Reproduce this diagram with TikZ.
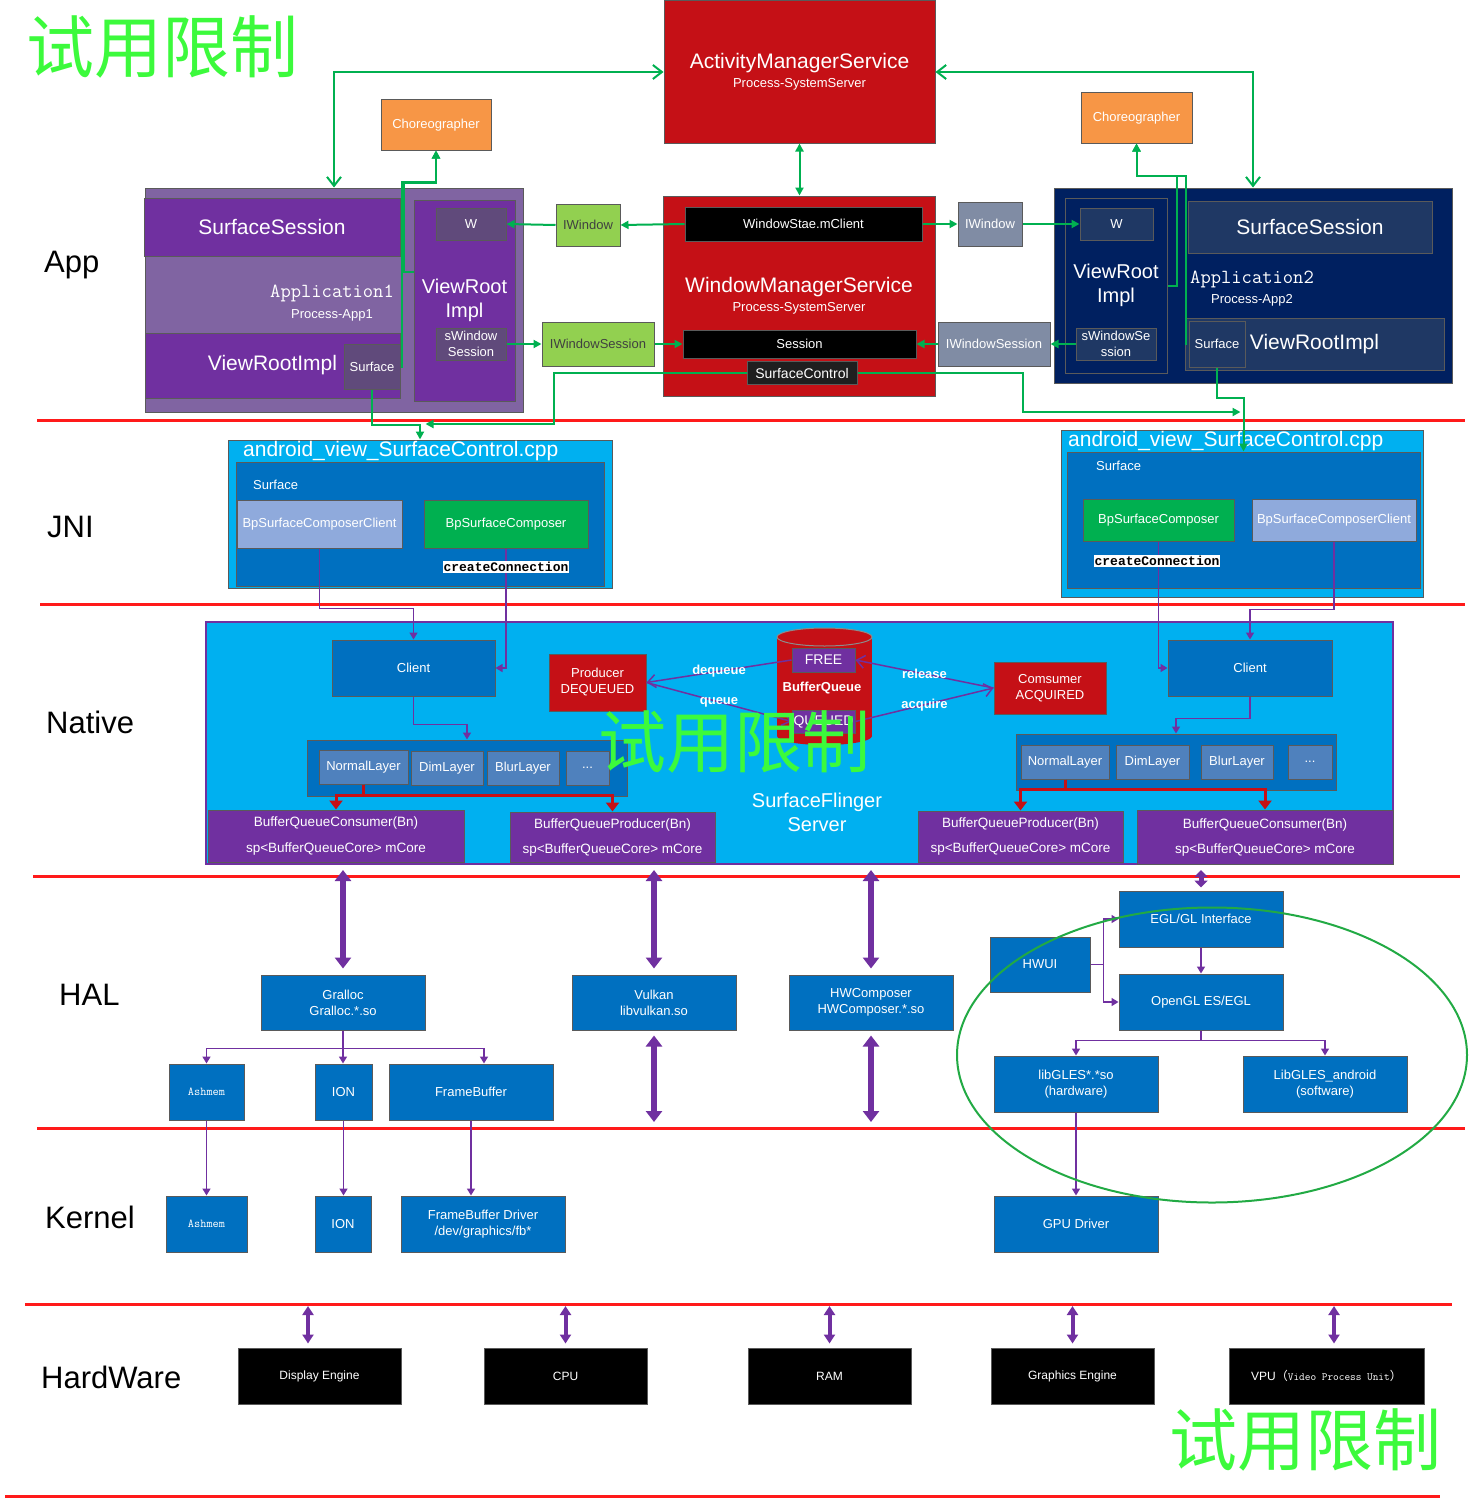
\documentclass[tikz,border=0pt]{standalone}
\usepackage{fontspec}
\setmainfont{Liberation Sans}
\newfontfamily\cjk{Noto Sans CJK SC}
\newfontfamily\cnfont{Liberation Mono}
\usetikzlibrary{arrows.meta}

\definecolor{amsred}{RGB}{197,16,22}
\definecolor{vpurple}{RGB}{112,48,160}
\definecolor{apppurple}{RGB}{128,100,162}
\definecolor{surfpurple}{RGB}{96,74,123}
\definecolor{navy}{RGB}{0,32,96}
\definecolor{navybox}{RGB}{31,56,100}
\definecolor{lgreen}{RGB}{146,208,80}
\definecolor{ggray}{RGB}{128,140,164}
\definecolor{skyblue}{RGB}{0,176,240}
\definecolor{midblue}{RGB}{0,112,192}
\definecolor{layerblue}{RGB}{79,129,189}
\definecolor{bpgray}{RGB}{143,170,220}
\definecolor{bpgreen}{RGB}{0,176,80}
\definecolor{chororange}{RGB}{247,150,70}
\definecolor{linegreen}{RGB}{0,176,80}
\definecolor{sepred}{RGB}{255,26,26}
\definecolor{markgreen}{RGB}{60,250,60}
\definecolor{ellgreen}{RGB}{34,170,68}
\definecolor{edgegray}{RGB}{90,90,90}

\begin{document}
\begin{tikzpicture}[x=1pt,y=-1pt,
  box/.style={rectangle,draw=edgegray,line width=1pt,text=white,align=center,inner sep=0pt,font=\fontsize{13}{16}\selectfont},
  big/.style={font=\fontsize{21}{24}\selectfont},
  tier/.style={anchor=west,inner sep=0pt,font=\fontsize{31}{34}\selectfont},
  sepline/.style={draw=sepred,line width=3pt},
  gline/.style={draw=linegreen,line width=2pt},
  garrow/.style={gline,-{Triangle[length=8pt,width=8pt]}},
  parrow/.style={draw=vpurple,line width=1.5pt,-{Triangle[length=7pt,width=8pt]}},
  bqarrow/.style={draw=vpurple,line width=1.5pt,-{Straight Barb[length=8pt,width=13pt]}},
  bqlbl/.style={text=white,inner sep=0pt,font=\bfseries\fontsize{13}{15}\selectfont},
  rarrow/.style={draw=amsred,line width=3pt,-{Triangle[length=9pt,width=13pt]}},
  dbl/.style={draw=vpurple,line width=6pt,{Triangle[length=11pt,width=16pt]}-{Triangle[length=11pt,width=16pt]},shorten <=5pt,shorten >=6pt},
  hwdbl/.style={draw=vpurple,line width=4pt,{Triangle[length=9pt,width=11pt]}-{Triangle[length=9pt,width=11pt]},shorten <=2pt,shorten >=4pt},
  wmark/.style={text=markgreen,inner sep=0pt,font=\cjk\fontsize{68}{70}\selectfont}]
\useasboundingbox (0,0) rectangle (1471,1501);

\foreach \y/\a/\b in {420/37/1465,604/40/1465,876/33/1460,1128/37/1465,1304/25/1452,1496/5/1440} {
  \draw[sepline] (\a,\y) -- (\b,\y);
  \coordinate (sep\y) at (0,\y);
}

\node[tier] (lapp) at (44,265) {App};
\node[tier] (ljni) at (47,527) {JNI};
\node[tier] (lnative) at (46,722) {Native};
\node[tier] (lhal) at (59,995) {HAL};
\node[tier] (lkernel) at (45,1217) {Kernel};
\node[tier] (lhw) at (41,1377) {HardWare};

\node[box,fill=amsred,minimum width=271,minimum height=142,font=\fontsize{13}{19}\selectfont] (ams) at (799.5,72) {{\fontsize{21}{24}\selectfont ActivityManagerService}\\Process-SystemServer};
\node[box,fill=amsred,minimum width=272,minimum height=200,font=\fontsize{13}{19}\selectfont] (wms) at (799,296) {{\fontsize{21}{24}\selectfont WindowManagerService}\\Process-SystemServer};
\node[box,fill=black,minimum width=237,minimum height=34] (mclient) at (803.5,224) {WindowStae.mClient};
\node[box,fill=black,minimum width=233,minimum height=28] (session) at (799.5,344) {Session};
\node[box,fill=black!88,minimum width=110,minimum height=23,font=\fontsize{14}{16}\selectfont] (sctrl) at (802,373) {SurfaceControl};

\node[box,fill=apppurple,minimum width=378,minimum height=224] (app1) at (334,300) {};
\node[box,fill=vpurple,minimum width=256,minimum height=58,big] (ss1) at (272,227) {SurfaceSession};
\node[text=white,align=center,inner sep=0pt,font=\fontsize{13}{21}\selectfont] (app1name) at (332,303) {{\ttfamily\fontsize{20}{22}\selectfont Application1}\\Process-App1};
\node[box,fill=vpurple,minimum width=255,minimum height=65,big] (vri1) at (272.5,365.5) {ViewRootImpl};
\node[box,fill=surfpurple,minimum width=56,minimum height=45] (surf1) at (372,366.5) {Surface};
\node[box,fill=vpurple,minimum width=101,minimum height=201,font=\fontsize{20}{24}\selectfont] (vrr1) at (464.5,300.5) {ViewRoot\\Impl};
\node[box,fill=surfpurple,minimum width=70,minimum height=32] (w1) at (471,224) {W};
\node[box,fill=surfpurple,minimum width=70,minimum height=32] (sws1) at (471,344) {sWindow\\Session};
\node[box,fill=chororange,minimum width=110,minimum height=50] (chor1) at (436,125) {Choreographer};
\node[box,fill=lgreen,text=black!75,minimum width=64,minimum height=42] (iw1) at (588,225) {IWindow};
\node[box,fill=lgreen,text=black!75,minimum width=112,minimum height=44] (iws1) at (598,344) {IWindowSession};

\node[box,fill=ggray,minimum width=64,minimum height=44] (iw2) at (990,224) {IWindow};
\node[box,fill=ggray,minimum width=112,minimum height=44] (iws2) at (994,344) {IWindowSession};
\node[box,fill=navy,minimum width=398,minimum height=195] (app2) at (1253,285.5) {};
\node[box,fill=navy,minimum width=102,minimum height=175,font=\fontsize{20}{24}\selectfont] (vrl2) at (1116,285.5) {ViewRoot\\Impl};
\node[box,fill=navybox,minimum width=73,minimum height=32] (w2) at (1116.5,224) {W};
\node[box,fill=navybox,minimum width=80,minimum height=32] (sws2) at (1116,344) {sWindowSe\\ssion};
\node[box,fill=navybox,minimum width=244,minimum height=52,big] (ss2) at (1310,227) {SurfaceSession};
\node[text=white,align=center,inner sep=0pt,font=\fontsize{13}{20}\selectfont] (app2name) at (1252,289) {{\ttfamily\fontsize{20}{22}\selectfont Application2}\\Process-App2};
\node[box,fill=navybox,minimum width=259,minimum height=52,big] (vr2) at (1314.5,344) {ViewRootImpl};
\node[box,fill=navybox,minimum width=56,minimum height=46] (surf2) at (1217,344) {Surface};
\node[box,fill=chororange,minimum width=111,minimum height=50] (chor2) at (1136.5,118) {Choreographer};

\node[box,fill=skyblue,minimum width=384,minimum height=148] (jni1) at (420,514) {};
\node[anchor=west,text=white,inner sep=0pt,font=\fontsize{21}{24}\selectfont] (jni1t) at (243,451) {android\_view\_SurfaceControl.cpp};
\node[box,fill=midblue,minimum width=368,minimum height=124] (jni1in) at (420,524) {};
\node[anchor=west,text=white,inner sep=0pt,font=\fontsize{13}{15}\selectfont] (surfl1) at (253,485) {Surface};
\node[box,fill=bpgray,minimum width=165,minimum height=48] (bpcc1) at (319.5,524) {BpSurfaceComposerClient};
\node[box,fill=bpgreen,minimum width=164,minimum height=48] (bpc1) at (506,524) {BpSurfaceComposer};

\node[box,fill=skyblue,minimum width=362,minimum height=167] (jni2) at (1242,513.5) {};
\node[anchor=west,text=white,inner sep=0pt,font=\fontsize{21}{24}\selectfont] (jni2t) at (1068,441) {android\_view\_SurfaceControl.cpp};
\node[box,fill=midblue,minimum width=353,minimum height=136] (jni2in) at (1243.5,520) {};
\node[anchor=west,text=white,inner sep=0pt,font=\fontsize{13}{15}\selectfont] (surfl2) at (1096,466) {Surface};
\node[box,fill=bpgreen,minimum width=151,minimum height=42] (bpc2) at (1158.5,520) {BpSurfaceComposer};
\node[box,fill=bpgray,minimum width=164,minimum height=42] (bpcc2) at (1334,520) {BpSurfaceComposerClient};

\node[box,fill=skyblue,draw=vpurple,line width=2pt,minimum width=1187,minimum height=242] (sf) at (799.5,743) {};
\node[box,fill=midblue,minimum width=163,minimum height=56] (client1) at (413.5,668) {Client};
\node[box,fill=midblue,minimum width=164,minimum height=56] (client2) at (1250,668) {Client};
\node[box,fill=midblue,minimum width=320,minimum height=56] (lay1) at (467,768) {};
\node[box,fill=layerblue,minimum width=89,minimum height=34] (nl1) at (363.5,767) {NormalLayer};
\node[box,fill=layerblue,minimum width=72,minimum height=34] (dl1) at (447,768) {DimLayer};
\node[box,fill=layerblue,minimum width=72,minimum height=34] (bl1) at (523,768) {BlurLayer};
\node[box,fill=layerblue,minimum width=43,minimum height=34] (el1) at (587.5,768) {...};
\node[box,fill=midblue,minimum width=320,minimum height=56] (lay2) at (1176,762) {};
\node[box,fill=layerblue,minimum width=88,minimum height=34] (nl2) at (1065,762) {NormalLayer};
\node[box,fill=layerblue,minimum width=73,minimum height=34] (dl2) at (1152.5,762) {DimLayer};
\node[box,fill=layerblue,minimum width=72,minimum height=34] (bl2) at (1237,762) {BlurLayer};
\node[box,fill=layerblue,minimum width=44,minimum height=34] (el2) at (1310,762) {...};
\node[box,fill=vpurple,minimum width=256,minimum height=52,font=\fontsize{13.5}{25}\selectfont] (bqc1) at (336,836) {BufferQueueConsumer(Bn)\\sp<BufferQueueCore>  mCore};
\node[box,fill=vpurple,minimum width=205,minimum height=50,font=\fontsize{13.5}{25}\selectfont] (bqp1) at (612.5,837) {BufferQueueProducer(Bn)\\sp<BufferQueueCore>  mCore};
\node[box,fill=vpurple,minimum width=205,minimum height=51,font=\fontsize{13.5}{25}\selectfont] (bqp2) at (1020.5,836.5) {BufferQueueProducer(Bn)\\sp<BufferQueueCore>  mCore};
\node[box,fill=vpurple,minimum width=256,minimum height=54,font=\fontsize{13.5}{25}\selectfont] (bqc2) at (1265,837) {BufferQueueConsumer(Bn)\\sp<BufferQueueCore>  mCore};
\node[box,fill=amsred,minimum width=97,minimum height=57] (prod) at (597.5,682.5) {Producer\\DEQUEUED};
\node[box,fill=amsred,minimum width=112,minimum height=52] (cons) at (1050,688) {Comsumer\\ACQUIRED};

\fill[amsred] (777,637) rectangle (872,736);
\fill[amsred] (824.5,736) ellipse [x radius=47.5, y radius=9];
\draw[fill=amsred,draw=black!45,line width=1pt] (824.5,637) ellipse [x radius=47.5, y radius=9];
\node[box,fill=vpurple,minimum width=63,minimum height=24,font=\fontsize{14}{16}\selectfont] (free) at (823.5,660) {FREE};
\node[box,fill=vpurple,minimum width=63,minimum height=23,font=\fontsize{14}{16}\selectfont] (queued) at (823.5,721.5) {QUEUED};
\node[bqlbl] (bqname) at (822,688) {BufferQueue};
\node[text=white,align=center,inner sep=0pt,font=\fontsize{20}{24}\selectfont] (sfname) at (817,812) {SurfaceFlinger\\Server};

\node[box,fill=midblue,minimum width=164,minimum height=55] (gralloc) at (343,1002.5) {Gralloc\\Gralloc.*.so};
\node[box,fill=midblue,minimum width=164,minimum height=55] (vulkan) at (654,1002.5) {Vulkan\\libvulkan.so};
\node[box,fill=midblue,minimum width=164,minimum height=55] (hwc) at (871,1002.5) {HWComposer\\HWComposer.*.so};
\node[box,fill=midblue,minimum width=164,minimum height=56] (egl) at (1201,919) {EGL/GL Interface};
\node[box,fill=midblue,minimum width=100,minimum height=55] (hwui) at (1040,964.5) {HWUI};
\node[box,fill=midblue,minimum width=164,minimum height=56] (gl) at (1201,1002) {OpenGL ES/EGL};
\node[box,fill=midblue,minimum width=164,minimum height=56] (gles1) at (1076,1084) {libGLES*.*so\\(hardware)};
\node[box,fill=midblue,minimum width=164,minimum height=56] (gles2) at (1325,1084) {LibGLES\_android\\(software)};
\node[box,fill=midblue,minimum width=75,minimum height=56,font=\ttfamily\fontsize{12}{14}\selectfont] (ashmem1) at (206.5,1092) {Ashmem};
\node[box,fill=midblue,minimum width=57,minimum height=56] (ion1) at (343.5,1092) {ION};
\node[box,fill=midblue,minimum width=164,minimum height=56] (fb1) at (471,1092) {FrameBuffer};

\node[box,fill=midblue,minimum width=81,minimum height=56,font=\ttfamily\fontsize{12}{14}\selectfont] (ashmem2) at (206.5,1224) {Ashmem};
\node[box,fill=midblue,minimum width=56,minimum height=56] (ion2) at (343,1224) {ION};
\node[box,fill=midblue,minimum width=164,minimum height=56] (fbd) at (483,1224) {FrameBuffer Driver\\/dev/graphics/fb*};
\node[box,fill=midblue,minimum width=164,minimum height=56] (gpu) at (1076,1224) {GPU Driver};

\node[box,fill=black,minimum width=163,minimum height=56,font=\fontsize{12}{14}\selectfont] (disp) at (319.5,1376) {Display Engine};
\node[box,fill=black,minimum width=163,minimum height=56,font=\fontsize{12}{14}\selectfont] (cpu) at (565.5,1376) {CPU};
\node[box,fill=black,minimum width=163,minimum height=56,font=\fontsize{12}{14}\selectfont] (ram) at (829.5,1376) {RAM};
\node[box,fill=black,minimum width=163,minimum height=56,font=\fontsize{12}{14}\selectfont] (gfx) at (1072.5,1376) {Graphics Engine};
\node[box,fill=black,minimum width=195,minimum height=56,font=\fontsize{12}{14}\selectfont] (vpu) at (1326.5,1376) {VPU{\cjk （}{\ttfamily\fontsize{11}{13}\selectfont Video Process Unit}{\cjk ）}};

\draw[gline,{Straight Barb[length=9pt,width=14pt]}-{Straight Barb[length=9pt,width=14pt]}] (app1.north) |- (ams.west);
\draw[gline,{Straight Barb[length=9pt,width=14pt]}-{Straight Barb[length=9pt,width=14pt]}] (app2.north) |- (ams.east);
\draw[gline,{Triangle[length=8pt,width=8pt]}-{Triangle[length=8pt,width=8pt]}] (ams.south) -- (ams.south |- wms.north);
\draw[garrow] (mclient.west) -- (iw1.east);
\draw[garrow] (iw1.west) -- (w1.east);
\draw[garrow] (sws1.east) -- (iws1.west);
\draw[garrow] (iws1.east) -- (session.west);
\draw[garrow] (mclient.east) -- (iw2.west);
\draw[garrow] (iw2.east) -- (w2.west);
\draw[garrow] (sws2.west) -- (iws2.east);
\draw[garrow] (iws2.west) -- (session.east);
\draw[garrow] (vrr1.west |- 0,272) -- (404,272) -- (404,183) -| (chor1.south);
\draw[garrow] (surf1.east) -- ++(1,0) -- ++(0,-185) -| (chor1.south);
\draw[garrow] (vrl2.east) -- ++(9,0) -- ++(0,-109.5) -| (chor2.south);
\draw[garrow] (vr2.west) -- ++(1,0) -- ++(0,-168) -| (chor2.south);
\draw[garrow] (surf1.south) -- ++(0,35) -| (jni1.north);
\draw[garrow] (sctrl.west) -| ++(-193,51) -- ++(-128,0);
\draw[garrow] (sctrl.east) -| ++(165,39) -- ++(218,0);
\draw[garrow] (surf2.south) -- ++(0,30) -| (jni2in.north);

\draw[parrow] (bpcc1.south) -- ++(0,60) -| (client1.north);
\draw[parrow] (bpc1.south) |- (client1.east);
\draw[parrow] (bpc2.south) |- (client2.west);
\draw[parrow] (bpcc2.south) -- ++(0,68) -| (client2.north);
\draw[parrow] (client1.south) -- ++(0,28) -| (lay1.north);
\draw[parrow] (client2.south) -- ++(0,22) -| (lay2.north);
\node[fill=white,text=black,inner sep=1pt,font=\cnfont\bfseries\fontsize{13}{15}\selectfont] (cc1) at (506,567) {createConnection};
\node[fill=white,text=black,inner sep=1pt,font=\cnfont\bfseries\fontsize{13}{15}\selectfont] (cc2) at (1157,561) {createConnection};

\draw[bqarrow] (free.west) -- (prod.east) node[bqlbl,midway] {dequeue};
\draw[bqarrow] (prod.east) -- (queued.west) node[bqlbl,midway] {queue};
\draw[bqarrow] (queued.east) -- (cons.west) node[bqlbl,midway] {acquire};
\draw[bqarrow] (cons.west) -- (free.east) node[bqlbl,midway] {release};

\draw[rarrow] (nl1.south) -- ++(0,11) -| (bqc1.north);
\draw[rarrow] (nl1.south) -- ++(0,11) -| (bqp1.north);
\draw[rarrow] (nl2.south) -- ++(0,10) -| (bqp2.north);
\draw[rarrow] (nl2.south) -- ++(0,10) -| (bqc2.north);

\draw[dbl] (gralloc.north |- sf.south) -- (gralloc.north);
\draw[dbl] (vulkan.north |- sf.south) -- (vulkan.north);
\draw[dbl] (hwc.north |- sf.south) -- (hwc.north);
\draw[draw=vpurple,line width=5pt,{Triangle[length=7pt,width=13pt]}-{Triangle[length=7pt,width=13pt]},shorten <=5pt,shorten >=3pt] (egl.north |- sf.south) -- (egl.north);
\draw[dbl] (vulkan.south) -- (vulkan.south |- sep1128);
\draw[dbl] (hwc.south) -- (hwc.south |- sep1128);

\draw[parrow] (gralloc.south) -- ++(0,18) -| (ashmem1.north);
\draw[parrow] (gralloc.south) -- (gralloc.south |- ion1.north);
\draw[parrow] (gralloc.south) -- ++(0,18) -| ([xshift=13]fb1.north);
\draw[parrow] (ashmem1.south) -- (ashmem2.north);
\draw[parrow] (ion1.south) -- (ion1.south |- ion2.north);
\draw[parrow] (fb1.south) -- (fb1.south |- fbd.north);
\draw[parrow] (hwui.east) -- ++(13,0) |- (egl.west);
\draw[parrow] (hwui.east) -- ++(13,0) |- (gl.west);
\draw[parrow] (egl.south) -- (gl.north);
\draw[parrow] (gl.south) -- ++(0,10) -| (gles1.north);
\draw[parrow] (gl.south) -- ++(0,10) -| (gles2.north);
\draw[parrow] (gles1.south) -- (gpu.north);

\draw[draw=ellgreen,line width=2pt] (1212,1055) ellipse [x radius=255, y radius=147.5];

\draw[hwdbl] ([xshift=-11.5]disp.north |- sep1304) -- ([xshift=-11.5]disp.north);
\draw[hwdbl] (cpu.north |- sep1304) -- (cpu.north);
\draw[hwdbl] (ram.north |- sep1304) -- (ram.north);
\draw[hwdbl] (gfx.north |- sep1304) -- (gfx.north);
\draw[hwdbl] ([xshift=7.5]vpu.north |- sep1304) -- ([xshift=7.5]vpu.north);

\node[wmark] (wm1) at (162,47) {试用限制};
\node[wmark] (wm2) at (734,742) {试用限制};
\node[wmark] (wm3) at (1305,1440) {试用限制};
\end{tikzpicture}
\end{document}
